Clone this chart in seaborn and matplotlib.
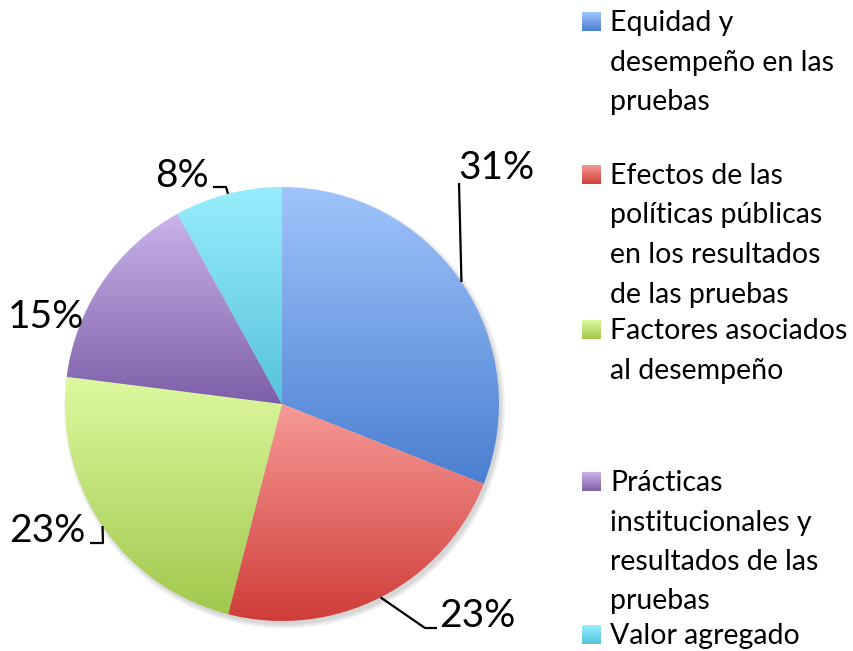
import numpy as np
import matplotlib
matplotlib.use("Agg")
import matplotlib.pyplot as plt
from matplotlib.colors import LinearSegmentedColormap
from matplotlib.patches import Circle
import seaborn as sns

# datos
categories = [
    "Equidad y\ndesempeño en las\npruebas",
    "Efectos de las\npolíticas públicas\nen los resultados\nde las pruebas",
    "Factores asociados\nal desempeño",
    "Prácticas\ninstitucionales y\nresultados de las\npruebas",
    "Valor agregado",
]
values = [31, 23, 23, 15, 8]
pct_labels = ["31%", "23%", "23%", "15%", "8%"]

# colores (degradado vertical por sector)
top_colors = ["#a0c4fc", "#f69a97", "#def9a0", "#cbb3eb", "#98edfc"]
bottom_colors = ["#4a7fd0", "#cf3d39", "#a0c84c", "#7d5fa8", "#55c2dc"]

# disposición en píxeles
W, H = 854, 651
CX, CY, R = 282, 404, 217
label_pos = [(496, 168), (477, 616), (47, 531), (46, 317), (182, 176)]
leader_pts = [[(459, 183)], [(425, 628), (437, 628)], [(103, 543), (90, 543)], [], [(226, 187), (213, 187)]]
legend_base = [31, 184, 339, 491, 644]
line_step = 39.5

sns.set_theme(style="white")
plt.rcParams['font.family'] = ['Lato', 'DejaVu Sans']

fig = plt.figure(figsize=(W / 100, H / 100), dpi=100)
fig.patch.set_facecolor("white")

ax = fig.add_axes([(CX - R) / W, (H - CY - R) / H, 2 * R / W, 2 * R / H])
wedges, _ = ax.pie(values, startangle=90, counterclock=False, radius=1)

# sombra suave
for k, a in enumerate([0.05, 0.05, 0.06]):
    ax.add_patch(Circle((0.012, -0.018), 1.0 + 0.008 * (2 - k), color="black", alpha=a, lw=0, zorder=0))

grad = np.linspace(0, 1, 256).reshape(-1, 1)
for w, c0, c1 in zip(wedges, top_colors, bottom_colors):
    ext = w.get_path().get_extents()
    cmap = LinearSegmentedColormap.from_list("g", [c0, c1])
    im = ax.imshow(grad, cmap=cmap, extent=[ext.x0, ext.x1, ext.y0, ext.y1],
                   origin="upper", aspect="auto", zorder=2, interpolation="bilinear")
    im.set_clip_path(w)
    w.set_facecolor("none")
    w.set_edgecolor("none")
    w.set_zorder(3)

ax.set_xlim(-1.1, 1.1)
ax.set_ylim(-1.1, 1.1)
ax.set_position([(CX - 1.1 * R) / W, (H - CY - 1.1 * R) / H, 2.2 * R / W, 2.2 * R / H])
ax.axis("off")

# capa superior en píxeles para etiquetas y leyenda
lax = fig.add_axes([0, 0, 1, 1])
lax.set_facecolor("none")

cum = np.cumsum([0] + values)
for i, (txt, (px, py)) in enumerate(zip(pct_labels, label_pos)):
    mid = np.deg2rad(90 - 360 * (cum[i] + values[i] / 2) / sum(values))
    ex, ey = CX + R * np.cos(mid), CY - R * np.sin(mid)
    if leader_pts[i]:
        xs = [ex] + [p[0] for p in leader_pts[i]]
        ys = [ey] + [p[1] for p in leader_pts[i]]
        lax.plot(xs, ys, color="black", lw=1.6, solid_capstyle="butt")
    lax.text(px, py, txt, fontsize=28, ha="center", va="center", color="black")

for name, base, c0, c1 in zip(categories, legend_base, top_colors, bottom_colors):
    cmap = LinearSegmentedColormap.from_list("g", [c0, c1])
    lax.imshow(grad, cmap=cmap, extent=[582, 601, base, base - 19], origin="upper",
               aspect="auto", interpolation="bilinear")
    for j, line in enumerate(name.split("\n")):
        lax.text(610, base + j * line_step, line, fontsize=20.5, ha="left", va="baseline", color="black")

lax.set_xlim(0, W)
lax.set_ylim(H, 0)
lax.axis("off")

fig.savefig("out.png", dpi=100, facecolor="white")
